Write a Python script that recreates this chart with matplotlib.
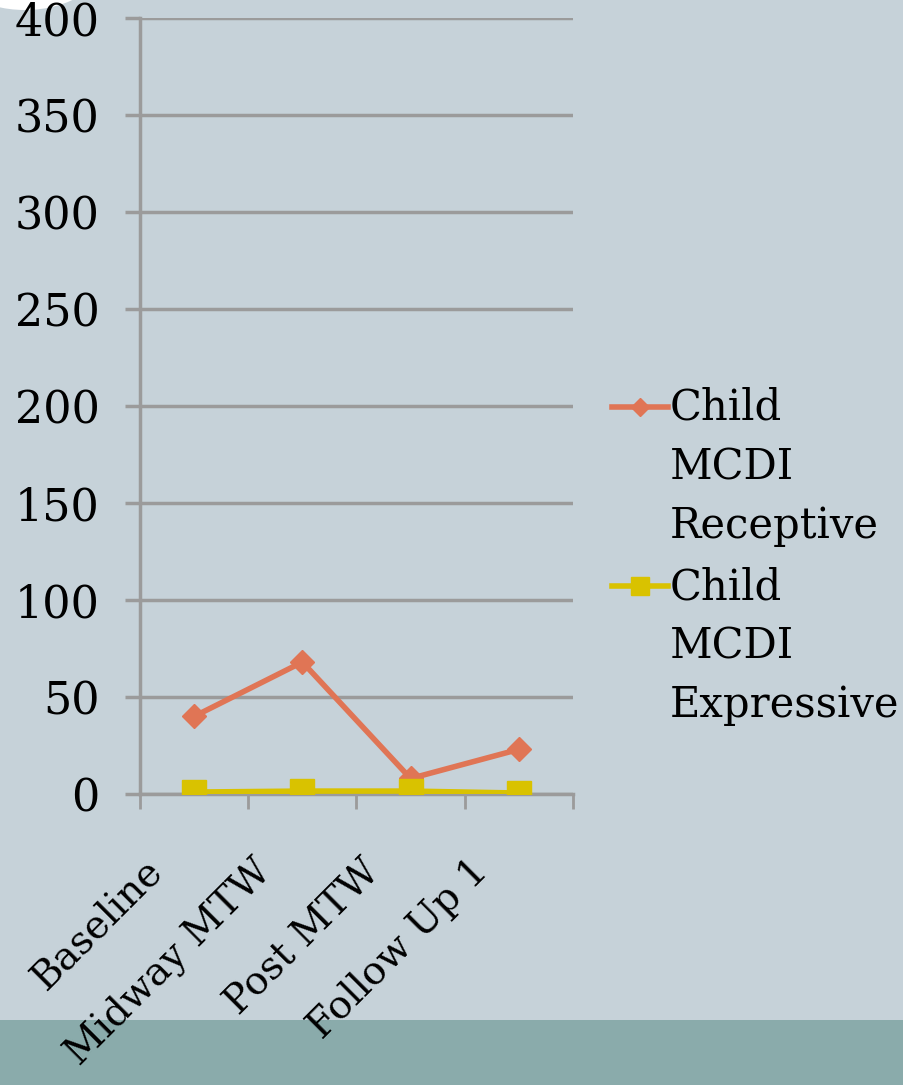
import matplotlib.pyplot as plt
from matplotlib.lines import Line2D
from matplotlib.patches import Rectangle, Ellipse
from matplotlib.transforms import ScaledTranslation

categories = ["Baseline", "Midway MTW", "Post MTW", "Follow Up 1"]
receptive = [40, 68, 8, 23]
expressive = [1, 1.5, 1.5, 0.5]
series_names = ["Child\nMCDI\nReceptive", "Child\nMCDI\nExpressive"]
yticks = [0, 50, 100, 150, 200, 250, 300, 350, 400]

bg = "#c6d2d9"
orange = "#e07555"
yellow = "#d9c200"
grid = "#9b9b9b"

plt.rcParams["font.family"] = ["DejaVu Serif"]

fig = plt.figure(figsize=(9.04, 10.85), dpi=100)
fig.patch.set_facecolor(bg)

# teal band along the bottom and the white corner blob
fig.add_artist(Rectangle((0, 0), 1, 65 / 1085, transform=fig.transFigure,
                         facecolor="#8aabab", edgecolor="none", zorder=0))
fig.add_artist(Ellipse((25 / 904, 1 + 45 / 1085), 165 / 904, 110 / 1085,
                       transform=fig.transFigure, facecolor="white",
                       edgecolor="none", zorder=0))

ax = fig.add_axes([140 / 904, 1 - 794 / 1085, 433 / 904, 776 / 1085])
ax.set_facecolor("none")

x = range(len(categories))
ax.plot(x, receptive, color=orange, lw=4, marker="D", ms=12, zorder=3)
ax.plot(x, expressive, color=yellow, lw=4, marker="s", ms=17, zorder=3)

ax.set_xlim(-0.5, len(categories) - 0.5)
ax.set_ylim(0, 400)
ax.set_yticks(yticks)
ax.yaxis.grid(True, color=grid, lw=2.5, zorder=1)
ax.set_axisbelow(True)

for s in ["top", "right"]:
    ax.spines[s].set_visible(False)
for s in ["left", "bottom"]:
    ax.spines[s].set_color(grid)
    ax.spines[s].set_linewidth(2.5)

ax.tick_params(axis="y", length=11, width=2.5, color=grid, pad=18,
               labelsize=32)
ax.set_xticks(list(x))
ax.set_xticklabels(categories, rotation=45, ha="right",
                   rotation_mode="anchor", fontsize=28)
ax.tick_params(axis="x", which="major", length=0, pad=30)
ax.set_xticks([i - 0.5 for i in range(len(categories) + 1)], minor=True)
ax.tick_params(axis="x", which="minor", length=11, width=2, color=grid)
shift = ScaledTranslation(-0.5, -0.17, fig.dpi_scale_trans)
for lab in ax.get_xticklabels():
    lab.set_transform(lab.get_transform() + shift)

# legend drawn by hand so the marker sits on the first text line
entries = [(series_names[0], orange, "D", 12, 407),
           (series_names[1], yellow, "s", 17, 586)]
for name, col, mk, ms, ypix in entries:
    yf = 1 - ypix / 1085
    fig.add_artist(Line2D([612 / 904, 668 / 904], [yf, yf],
                          transform=fig.transFigure, color=col, lw=4))
    fig.add_artist(Line2D([640 / 904], [yf], transform=fig.transFigure,
                          color=col, marker=mk, ms=ms * 0.8, lw=0))
    fig.text(670 / 904, yf + 20 / 1085, name, fontsize=30, va="top",
             ha="left", linespacing=1.52)

fig.savefig("out.png", dpi=100, facecolor=bg)
